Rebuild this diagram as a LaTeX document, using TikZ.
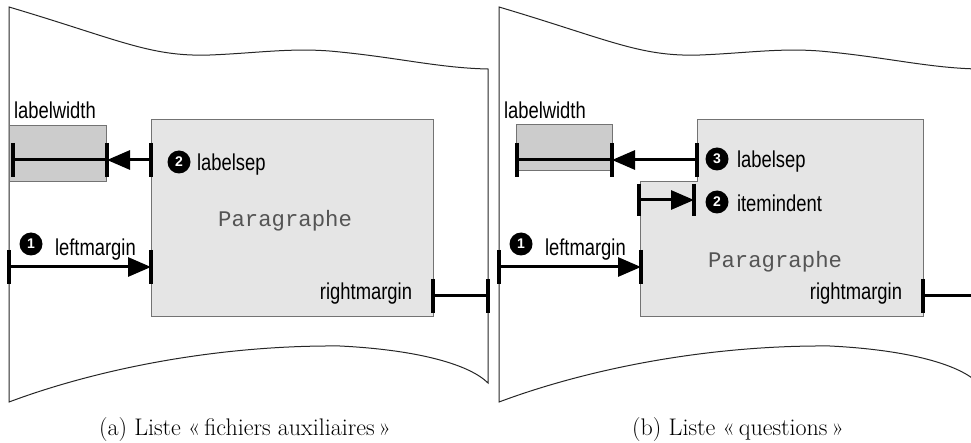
\documentclass[tikz,border=0pt]{standalone}
\usepackage{fontspec}
\usepackage{graphicx}
\usetikzlibrary{arrows.meta}
\newfontfamily\lblfont{Liberation Sans}
\newfontfamily\parfont{Liberation Mono}
\definecolor{parfill}{gray}{0.9}
\definecolor{lwfill}{gray}{0.8}
\definecolor{boxline}{gray}{0.45}
\definecolor{partext}{gray}{0.33}
\newcommand\lbltext[1]{\scalebox{0.8}[1]{\lblfont\fontsize{23}{26}\selectfont #1}}
\newcommand\tickbar[2][17]{\draw[dimbar] ([yshift=#1pt]#2) -- ([yshift=-#1pt]#2);}
\newcommand\pageoutline{%
  \draw[page] (9,402) -- (9,7) .. controls (120,40) and (150,57) .. (210,55)
    .. controls (260,53) and (295,47) .. (340,52)
    .. controls (400,58) and (440,68) .. (488,69) -- (488,383)
    .. controls (470,365) and (420,350) .. (340,346)
    .. controls (220,345) and (100,368) .. (9,402) -- cycle;}
\tikzset{
  page/.style={draw=black!85, line width=1pt},
  parbox/.style={draw=boxline, fill=parfill, line width=1pt, inner sep=0pt, outer sep=0pt},
  lwbox/.style={draw=boxline, fill=lwfill, line width=1pt, inner sep=0pt, outer sep=0pt},
  dimline/.style={line width=3pt},
  dimarrow/.style={line width=3pt, -{Triangle[length=23pt,width=19pt]}},
  dimbar/.style={line width=3.5pt},
  lbl/.style={inner sep=0pt, outer sep=0pt},
  num/.style={circle, fill=black, minimum size=23pt, inner sep=0pt, text=white,
    font=\lblfont\bfseries\fontsize{14}{14}\selectfont},
  partxt/.style={inner sep=0pt, text=partext, font=\parfont\fontsize{22.3}{24}\selectfont},
  captxt/.style={inner sep=0pt, font=\fontsize{24}{27}\selectfont},
}
\begin{document}
\begin{tikzpicture}[x=1pt,y=-1pt]
\useasboundingbox (0,0) rectangle (971,443);
% ---------------- panel (a)
\begin{scope}
  \pageoutline
  \node[lwbox, minimum width=97pt, minimum height=56pt, anchor=north west] (a-lwbox) at (9,126) {};
  \node[parbox, minimum width=282pt, minimum height=197pt, anchor=north west] (a-par) at (151,120) {};
  \node[partxt, anchor=base west] (a-ptxt) at (218,227) {Paragraphe};
  % labelwidth
  \coordinate (a-lw1) at (13,160);
  \coordinate (a-lw2) at (107,160);
  \draw[dimline] (a-lw1) -- (a-lw2);
  \tickbar{a-lw1}\tickbar{a-lw2}
  \node[lbl, anchor=base west] (a-lwt) at (14,119) {\lbltext{labelwidth}};
  % labelsep
  \coordinate (a-ls) at (151,160);
  \draw[dimarrow] (a-ls) -- (a-lw2);
  \tickbar{a-ls}
  \node[num] (a-n2) at (179,162) {2};
  \node[lbl, anchor=base west] (a-lst) at (197,171) {\lbltext{labelsep}};
  % leftmargin
  \coordinate (a-lm1) at (9,267);
  \coordinate (a-lm2) at (151,267);
  \draw[dimarrow] (a-lm1) -- (a-lm2);
  \tickbar{a-lm1}\tickbar{a-lm2}
  \node[num] (a-n1) at (31,244) {1};
  \node[lbl, anchor=base west] (a-lmt) at (55,256) {\lbltext{leftmargin}};
  % rightmargin
  \coordinate (a-rm1) at (433,296);
  \coordinate (a-rm2) at (488,296);
  \draw[dimline] (a-rm1) -- (a-rm2);
  \tickbar{a-rm1}\tickbar{a-rm2}
  \node[lbl, anchor=base east] (a-rmt) at (412,300) {\lbltext{rightmargin}};
  \node[captxt, anchor=base] (a-cap) at (245,435) {(a) Liste «\,fichiers auxiliaires\,»};
\end{scope}
% ---------------- panel (b)
\begin{scope}[shift={(490,0)}]
  \pageoutline
\end{scope}
  \node[lwbox, minimum width=96pt, minimum height=46pt, anchor=north west] (b-lwbox) at (516,125) {};
  \draw[parbox] (697,120) -- (923,120) -- (923,317) -- (640,317) -- (640,182) -- (697,182) -- cycle;
  \node[partxt, anchor=base west] (b-ptxt) at (708,268) {Paragraphe};
  % labelwidth
  \coordinate (b-lw1) at (517,160);
  \coordinate (b-lw2) at (612,160);
  \draw[dimline] (b-lw1) -- (b-lw2);
  \tickbar{b-lw1}\tickbar{b-lw2}
  \node[lbl, anchor=base west] (b-lwt) at (504,119) {\lbltext{labelwidth}};
  % labelsep
  \coordinate (b-ls) at (697,160);
  \draw[dimarrow] (b-ls) -- (b-lw2);
  \tickbar{b-ls}
  \node[num] (b-n3) at (717,159) {3};
  \node[lbl, anchor=base west] (b-lst) at (737,168) {\lbltext{labelsep}};
  % itemindent
  \coordinate (b-ii1) at (639,200);
  \coordinate (b-ii2) at (694,200);
  \draw[dimarrow] (b-ii1) -- (b-ii2);
  \tickbar[16]{b-ii1}\tickbar[16]{b-ii2}
  \node[num] (b-n2) at (717,202) {2};
  \node[lbl, anchor=base west] (b-iit) at (737,212) {\lbltext{itemindent}};
  % leftmargin
  \coordinate (b-lm1) at (499,267);
  \coordinate (b-lm2) at (641,267);
  \draw[dimarrow] (b-lm1) -- (b-lm2);
  \tickbar{b-lm1}\tickbar{b-lm2}
  \node[num] (b-n1) at (521,244) {1};
  \node[lbl, anchor=base west] (b-lmt) at (545,256) {\lbltext{leftmargin}};
  % rightmargin
  \coordinate (b-rm1) at (923,296);
  \coordinate (b-rm2) at (978,296);
  \draw[dimline] (b-rm1) -- (b-rm2);
  \tickbar{b-rm1}\tickbar{b-rm2}
  \node[lbl, anchor=base east] (b-rmt) at (902,300) {\lbltext{rightmargin}};
  \node[captxt, anchor=base] (b-cap) at (738,435) {(b) Liste «\,questions\,»};
\end{tikzpicture}
\end{document}
